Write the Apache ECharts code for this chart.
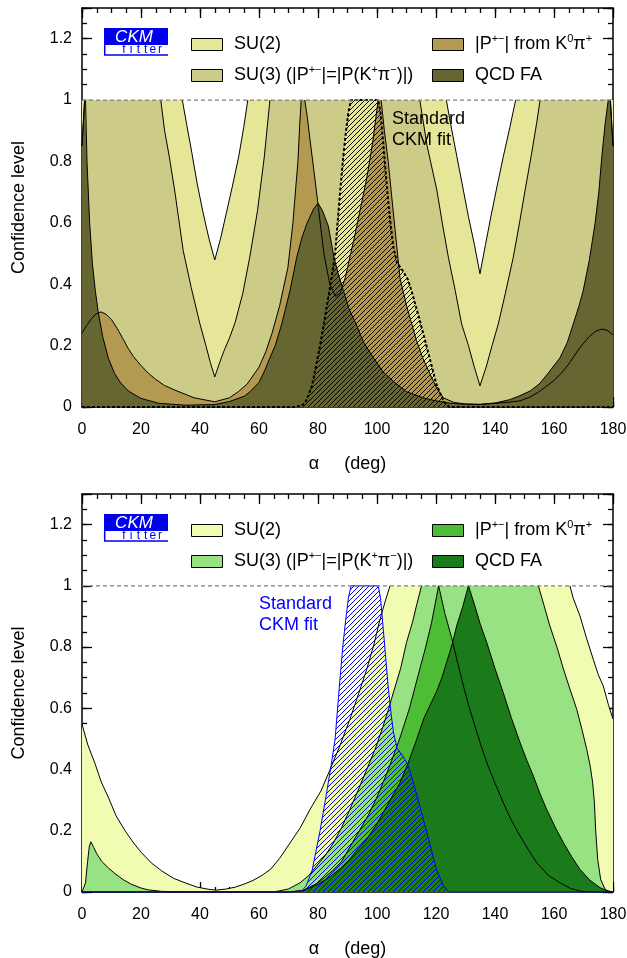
<!DOCTYPE html>
<html><head><meta charset="utf-8">
<script src="https://cdn.jsdelivr.net/npm/echarts/dist/echarts.min.js"></script>
<style>html,body{margin:0;padding:0;background:#fff}#c{width:627px;height:958px}</style>
</head><body><div id="c"></div>
<script>
// ---------- axis ranges / ticks ----------
const alphaRange = [0, 180];
const clRange = [0, 1.3];
const xMajor = 20, xMinor = 5, yMajor = 0.2, yMinor = 0.05;

// ---------- Standard CKM fit (same in both panels) ----------
const ckmFit = [[0,0],[72,0],[74.5,0.004],[76,0.02],[78,0.07],[80.7,0.2],[82.5,0.3],[84.4,0.41],[85.8,0.5],[87.4,0.69],[88.5,0.81],[89.4,0.89],[90.3,0.96],[91.2,1],[100.4,1],[101.2,0.96],[102.2,0.85],[103.8,0.67],[104.8,0.58],[105.6,0.52],[106.8,0.47],[109,0.44],[110.5,0.415],[111.5,0.385],[114,0.3],[117.3,0.18],[120.1,0.075],[122.6,0.018],[124.5,0],[180,0]];

// ---------- top panel ----------
const topSU2 = [[0,1],[34,1],[35.5,0.92],[37.2,0.83],[39,0.73],[41,0.635],[43,0.55],[45,0.479],[47,0.55],[49,0.635],[51,0.72],[53.2,0.82],[54.8,0.91],[56.2,1],[123.5,1],[125,0.92],[127,0.82],[129,0.72],[131,0.62],[133,0.53],[134.9,0.434],[136.8,0.53],[138.6,0.62],[140.5,0.71],[142.8,0.815],[145,0.91],[147,1],[180,1]];
const topSU3 = [[0,0.85],[0.9,1],[26.7,1],[28,0.9],[29.6,0.815],[31.5,0.7],[34.3,0.51],[37,0.39],[40,0.27],[42,0.2],[43.5,0.145],[45,0.098],[46.5,0.14],[48,0.18],[50,0.225],[51.9,0.275],[54.5,0.37],[56.9,0.49],[59.5,0.64],[61.8,0.815],[63.7,1],[114.5,1],[117,0.85],[120.3,0.706],[122.3,0.59],[124.2,0.488],[126.5,0.38],[128.7,0.27],[131,0.2],[133,0.13],[134.9,0.069],[137,0.13],[139,0.2],[141.1,0.27],[143.5,0.37],[146.2,0.488],[148.3,0.6],[150.2,0.706],[152.3,0.82],[154.1,0.924],[155.3,1],[179.1,1],[180,0.85]];
const topP = [[0,0.24],[1.5,0.265],[3,0.285],[4.7,0.303],[6.4,0.31],[8.2,0.302],[10,0.285],[12,0.255],[14,0.22],[15.7,0.19],[17.4,0.165],[20,0.135],[22.5,0.11],[25,0.09],[28,0.07],[31.5,0.055],[38,0.03],[45,0.017],[50,0.03],[53,0.05],[56,0.075],[60,0.13],[62.3,0.18],[64.4,0.24],[67,0.33],[69.8,0.455],[71.5,0.6],[72.5,0.72],[73.2,0.8],[73.8,0.92],[74.3,1],[75.5,1],[76.3,0.95],[77.3,0.87],[79,0.74],[80,0.66],[82,0.5],[84,0.4],[86,0.36],[87.5,0.37],[89.2,0.42],[92.5,0.56],[96.5,0.744],[98.5,0.86],[100.4,1],[101.4,1],[102.5,0.9],[103.8,0.8],[106.1,0.58],[107.8,0.42],[110,0.33],[113.4,0.216],[115.5,0.16],[118,0.107],[120.3,0.06],[122.5,0.03],[126,0.015],[130,0.01],[135,0.008],[140,0.012],[144,0.015],[148.5,0.02],[152,0.033],[155,0.05],[159.8,0.085],[162.5,0.11],[165,0.14],[168.8,0.194],[172,0.23],[174.2,0.247],[176.2,0.254],[178,0.25],[180,0.235]];
const topQCD = [[0,0.85],[0.9,1],[1.2,1],[1.7,0.8],[2.6,0.6],[3.5,0.47],[4.5,0.38],[5.5,0.31],[7,0.23],[8.9,0.16],[11,0.11],[13,0.08],[15.7,0.052],[20,0.028],[26,0.012],[35,0.006],[45,0.008],[50,0.018],[55,0.035],[57,0.05],[60,0.08],[62,0.12],[63.7,0.16],[65.5,0.2],[67.7,0.27],[70.5,0.379],[72.8,0.488],[74.5,0.55],[76.2,0.597],[78.5,0.645],[80,0.664],[81.5,0.64],[83.5,0.59],[85.4,0.488],[87,0.43],[88.6,0.379],[90.5,0.32],[92.9,0.27],[95.5,0.21],[98.8,0.16],[102,0.115],[105.5,0.084],[110,0.05],[115.6,0.03],[120,0.02],[125,0.012],[130,0.009],[135,0.009],[140,0.013],[145,0.024],[148,0.035],[151.9,0.052],[155,0.075],[158,0.11],[162,0.16],[164.5,0.21],[166.5,0.27],[168.5,0.33],[169.9,0.379],[172,0.48],[173.9,0.597],[175.2,0.7],[176.2,0.815],[177.3,0.92],[178.4,1],[179.1,1],[180,0.85]];

// ---------- bottom panel ----------
const botSU2 = [[0,0.548],[2,0.48],[4.4,0.42],[6.5,0.36],[8.9,0.31],[11.5,0.25],[14.6,0.2],[17.5,0.16],[20.2,0.128],[23.5,0.095],[27,0.069],[31,0.045],[34.9,0.03],[39,0.016],[42.8,0.009],[45.5,0.006],[49,0.01],[52,0.016],[55,0.026],[58,0.038],[61,0.054],[64,0.075],[67,0.11],[70.5,0.16],[74,0.21],[77.3,0.27],[81,0.33],[84.1,0.4],[87.5,0.48],[90.8,0.564],[93.5,0.64],[96.5,0.727],[99,0.81],[101,0.89],[102.8,0.95],[104.4,1],[165.4,1],[166.5,0.96],[168.8,0.902],[171,0.83],[173.3,0.76],[175,0.71],[176.7,0.673],[178.5,0.61],[180,0.565]];
const botSU3 = [[0,0],[0.6,0.005],[1.2,0.03],[1.9,0.1],[2.5,0.15],[3,0.164],[4,0.145],[5,0.125],[6.7,0.1],[9,0.078],[11.2,0.06],[14,0.04],[16.8,0.025],[20,0.013],[22.4,0.007],[27,0.002],[35,0],[65,0],[70,0.01],[73.9,0.03],[77,0.055],[79.5,0.085],[82.5,0.12],[85.2,0.16],[88,0.21],[90.8,0.27],[93.5,0.33],[96.5,0.4],[99.5,0.47],[102,0.54],[104,0.6],[105.5,0.65],[108,0.73],[110,0.815],[112,0.88],[113.5,0.94],[115.1,1],[154.7,1],[156.5,0.94],[158.6,0.869],[161,0.8],[163.2,0.728],[165.5,0.66],[167.7,0.597],[169.5,0.53],[171.1,0.466],[172.3,0.41],[173.1,0.357],[173.7,0.292],[174.1,0.205],[174.8,0.107],[175.8,0.042],[177.3,0.009],[178.5,0.003],[180,0]];
const botP = [[0,0],[70,0],[75,0.005],[80,0.03],[85,0.07],[88,0.1],[91,0.15],[94,0.2],[97,0.25],[100,0.31],[103,0.38],[105,0.43],[108,0.51],[111,0.6],[114,0.71],[116.5,0.8],[118.5,0.88],[120.9,1],[123,0.91],[125.3,0.831],[127.3,0.75],[129.3,0.673],[131.2,0.605],[133.2,0.542],[135.2,0.48],[137.2,0.423],[140,0.355],[142.8,0.292],[145.5,0.235],[148.5,0.183],[151.5,0.135],[154.1,0.096],[158,0.055],[162,0.03],[165.5,0.012],[168.8,0.003],[172,0],[180,0]];
const botQCD = [[0,0],[70,0],[75,0.005],[77.3,0.014],[80,0.025],[82.5,0.04],[85.2,0.058],[88,0.08],[90.8,0.107],[93.5,0.14],[96.5,0.172],[99.5,0.215],[102.1,0.259],[105,0.31],[107.8,0.357],[110.5,0.42],[113.5,0.5],[116,0.57],[118,0.61],[120.2,0.655],[122,0.7],[123.6,0.75],[125.5,0.81],[127,0.869],[129,0.93],[131,1],[133,0.94],[135,0.875],[137.2,0.815],[140,0.73],[142.8,0.651],[145.5,0.57],[148.5,0.488],[150.8,0.43],[153,0.379],[155.3,0.32],[157.5,0.27],[160.5,0.21],[163.2,0.161],[166,0.115],[168.8,0.074],[172,0.04],[175.6,0.014],[178,0.004],[180,0]];

// ---------- texts ----------
const xTitle = 'α     (deg)';
const yTitle = 'Confidence level';
const legendLabels = ['SU(2)', 'SU(3) (|P{s|+−}|=|P(K{s|+}π{s|−})|)', '|P{s|+−}| from K{s|0}π{s|+}', 'QCD FA'];
const fitLabel = ['Standard', 'CKM fit'];

// ---------- styles ----------
const FONT = '"Liberation Sans", Arial, Helvetica, sans-serif';
const palTop = {su2:'#e6e699', su3:'#cccc88', p:'#b39a50', qcd:'#666633'};
const palBot = {su2:'#f2fbb2', su3:'#99e283', p:'#4cbd35', qcd:'#1b7b1b'};

function hatch(color){
  const c = document.createElement('canvas'); c.width = 5; c.height = 5;
  const g = c.getContext('2d'); g.strokeStyle = color; g.lineWidth = 1;
  g.beginPath(); g.moveTo(-1,6); g.lineTo(6,-1); g.moveTo(-1,1); g.lineTo(1,-1); g.moveTo(4,6); g.lineTo(6,4); g.stroke();
  return c;
}
function breakAtTop(d){
  const out = [];
  for (let i = 0; i < d.length; i++) {
    if (i > 0 && d[i][1] >= 1 && d[i-1][1] >= 1) out.push([(d[i][0]+d[i-1][0])/2, null]);
    out.push(d[i]);
  }
  return out;
}

const grids = [
  {left:82, top:8, width:531, height:399, outerBoundsMode:'none'},
  {left:82, top:494, width:531, height:398, outerBoundsMode:'none'}
];
const tickStyle = {color:'#000', width:1.3};
const frame = {show:true, onZero:false, lineStyle:{color:'#000', width:1.5}};
const xAxis = [], yAxis = [];
grids.forEach((g, gi) => {
  const bx = {type:'value', gridIndex:gi, min:alphaRange[0], max:alphaRange[1], splitLine:{show:false}, silent:true};
  xAxis.push(
    Object.assign({}, bx, {position:'bottom', interval:xMajor, axisLine:frame, axisTick:{show:true, inside:true, length:10, lineStyle:tickStyle},
      axisLabel:{show:true, margin:15, color:'#000', fontSize:16, fontFamily:FONT},
      name:xTitle, nameLocation:'middle', nameGap:48, nameTextStyle:{color:'#000', fontSize:18, fontFamily:FONT}}),
    Object.assign({}, bx, {position:'bottom', interval:xMinor, axisLine:{show:false, onZero:false}, axisTick:{show:true, inside:true, length:5, lineStyle:tickStyle}, axisLabel:{show:false}}),
    Object.assign({}, bx, {position:'top', interval:xMajor, axisLine:frame, axisTick:{show:true, inside:true, length:10, lineStyle:tickStyle}, axisLabel:{show:false}}),
    Object.assign({}, bx, {position:'top', interval:xMinor, axisLine:{show:false, onZero:false}, axisTick:{show:true, inside:true, length:5, lineStyle:tickStyle}, axisLabel:{show:false}})
  );
  const by = {type:'value', gridIndex:gi, min:clRange[0], max:clRange[1], splitLine:{show:false}, silent:true};
  yAxis.push(
    Object.assign({}, by, {position:'left', interval:yMajor, axisLine:frame, axisTick:{show:true, inside:true, length:10, lineStyle:tickStyle},
      axisLabel:{show:true, margin:10, color:'#000', fontSize:16, fontFamily:FONT,
        formatter: v => (Math.abs(v - clRange[1]) < 1e-9 ? '' : String(Math.round(v*10)/10))},
      name:yTitle, nameLocation:'middle', nameGap:54, nameRotate:90, nameTextStyle:{color:'#000', fontSize:18, fontFamily:FONT}}),
    Object.assign({}, by, {position:'left', interval:yMinor, axisLine:{show:false, onZero:false}, axisTick:{show:true, inside:true, length:5, lineStyle:tickStyle}, axisLabel:{show:false}}),
    Object.assign({}, by, {position:'right', interval:yMajor, axisLine:frame, axisTick:{show:true, inside:true, length:10, lineStyle:tickStyle}, axisLabel:{show:false}}),
    Object.assign({}, by, {position:'right', interval:yMinor, axisLine:{show:false, onZero:false}, axisTick:{show:true, inside:true, length:5, lineStyle:tickStyle}, axisLabel:{show:false}})
  );
});

function panelSeries(gi, d, pal, opt){
  const ax = {xAxisIndex:gi*4, yAxisIndex:gi*4};
  const fill = (data, color) => Object.assign({type:'line', data, symbol:'none', silent:true, animation:false,
      lineStyle:{opacity:0, width:0.01}, areaStyle:{color, opacity:1}}, ax);
  const line = (data, ls) => Object.assign({type:'line', data, symbol:'none', silent:true, animation:false,
      connectNulls:false, lineStyle:ls}, ax);
  const S = [fill(d.su2, pal.su2), fill(d.su3, pal.su3)];
  if (opt.paleFill) S.push(fill(ckmFit, pal.su2));
  S.push(fill(d.p, pal.p), fill(d.qcd, pal.qcd));
  S.push(fill(ckmFit, {image:hatch(opt.hatchColor), repeat:'repeat'}));
  [d.su2, d.su3, d.p, d.qcd].forEach(a => S.push(line(breakAtTop(a), {color:'#000', width:1})));
  S.push(line(ckmFit, opt.ckmLine));
  S.push(line([[alphaRange[0],1],[alphaRange[1],1]], {color:'#808080', width:1.2, type:[4,3]}));
  return S;
}

const series = [].concat(
  panelSeries(0, {su2:topSU2, su3:topSU3, p:topP, qcd:topQCD}, palTop, {paleFill:true, hatchColor:'#000', ckmLine:{color:'#000', width:2, type:[3,2]}}),
  panelSeries(1, {su2:botSU2, su3:botSU3, p:botP, qcd:botQCD}, palBot, {paleFill:false, hatchColor:'#0000ff', ckmLine:{color:'#0000ff', width:1}})
);

const rich = {
  n:{fontSize:18, fontFamily:FONT, lineHeight:22, verticalAlign:'middle', fill:'#000', color:'#000'},
  s:{fontSize:11, fontFamily:FONT, lineHeight:11, verticalAlign:'top', fill:'#000', color:'#000'}
};
function toRich(t){
  const parts = t.split(/(\{s\|[^}]*\})/);
  return parts.filter(p => p.length).map(p => p.startsWith('{s|') ? p : '{n|' + p + '}').join('');
}
function txt(x, y, text, opts){
  return {type:'text', x, y, z:100, silent:true, style:Object.assign({text, fill:'#000', fontSize:18, fontFamily:FONT,
    align:'left', textAlign:'left', verticalAlign:'middle', textVerticalAlign:'middle'}, opts || {})};
}
function panelGraphics(dy, pal, fit){
  const els = [];
  // CKMfitter logo
  els.push({type:'rect', z:100, silent:true, shape:{x:104, y:28+dy, width:64, height:17}, style:{fill:'#0000ee'}});
  els.push(txt(134, 37+dy, 'CKM', {fill:'#fff', fontStyle:'italic', fontSize:17, align:'center', textAlign:'center'}));
  els.push({type:'polyline', z:100, silent:true, shape:{points:[[104.7,45+dy],[104.7,55+dy],[168,55+dy]]}, style:{stroke:'#0000ee', lineWidth:1.5, fill:null}});
  'fitter'.split('').forEach((ch, i) => els.push(txt(124 + i*7.2, 50+dy, ch, {fill:'#0000ee', fontSize:12, align:'center', textAlign:'center'})));
  // legend
  const cols = [191, 432], rows = [38, 69];
  const keys = ['su2', 'su3', 'p', 'qcd'];
  const place = [[0,0],[0,1],[1,0],[1,1]];
  keys.forEach((k, i) => {
    const [c, r] = place[i];
    els.push({type:'rect', z:100, silent:true, shape:{x:cols[c]+0.5, y:rows[r]+dy+0.5, width:31, height:12}, style:{fill:pal[k], stroke:'#000', lineWidth:1}});
    els.push(txt(cols[c]+43, rows[r]+dy+6.5, toRich(legendLabels[i]), {rich}));
  });
  // Standard CKM fit label
  els.push(txt(fit.x, fit.y, fitLabel[0], {fill:fit.c}));
  els.push(txt(fit.x, fit.y + 21, fitLabel[1], {fill:fit.c}));
  return els;
}

const chart = echarts.init(document.getElementById('c'), null, {renderer:'canvas'});
chart.setOption({
  animation:false,
  backgroundColor:'#fff',
  textStyle:{fontFamily:FONT},
  grid:grids, xAxis, yAxis, series,
  graphic:{elements:[].concat(
    panelGraphics(0, palTop, {x:392, y:119, c:'#000'}),
    panelGraphics(486, palBot, {x:259, y:604, c:'#0000ff'})
  )}
});
</script></body></html>
